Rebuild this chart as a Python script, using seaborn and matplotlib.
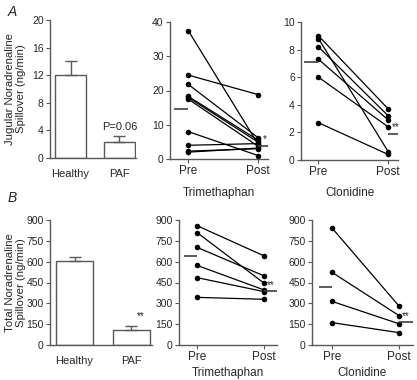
import numpy as np
import pandas as pd
import matplotlib
matplotlib.use("Agg")
import matplotlib.pyplot as plt
import seaborn as sns

sns.set_theme(style="ticks")
plt.rcParams["font.family"] = ["Liberation Sans", "DejaVu Sans"]
plt.rcParams["font.size"] = 8

# --- data ---
groups = ["Healthy", "PAF"]
jugular_mean = [12.0, 2.3]
jugular_err = [2.0, 0.9]
total_mean = [605, 110]
total_err = [30, 30]

phases = ["Pre", "Post"]
trim_jug_pre = [37.5, 24.5, 21.8, 18.3, 18.0, 17.5, 8.0, 4.0, 2.3, 2.0]
trim_jug_post = [4.3, 18.8, 6.2, 5.5, 4.9, 3.7, 1.0, 4.5, 3.0, 3.2]
trim_jug_avg = [14.6, 3.9]

clon_jug_pre = [9.0, 8.8, 8.2, 7.3, 6.0, 2.7]
clon_jug_post = [3.7, 0.6, 3.2, 2.9, 2.4, 0.4]
clon_jug_avg = [7.1, 1.9]

trim_tot_pre = [859, 809, 703, 573, 485, 343]
trim_tot_post = [641, 444, 497, 396, 384, 329]
trim_tot_avg = [640, 390]

clon_tot_pre = [842, 523, 314, 161]
clon_tot_post = [281, 212, 153, 89]
clon_tot_avg = [415, 168]

W, H = 417, 380
fig = plt.figure(figsize=(W / 100, H / 100), dpi=100)


def add_ax(left, right, top, bottom):
    return fig.add_axes([left / W, 1 - bottom / H, (right - left) / W, (bottom - top) / H])


def style(ax):
    sns.despine(ax=ax)
    for s in ("left", "bottom"):
        ax.spines[s].set_color("0.35")
        ax.spines[s].set_linewidth(1.0)
    ax.tick_params(length=3, width=0.8, color="0.35", pad=1.5, labelsize=7.5)


def bar_panel(ax, means, errs, ylim, yticks, ylabel, width, xlim, left, right):
    sns.barplot(x=groups, y=means, ax=ax, color="white", edgecolor="0.35",
                linewidth=1.0, width=width, errorbar=None, saturation=1)
    ax.errorbar(range(len(groups)), means, yerr=[np.zeros(len(errs)), errs],
                fmt="none", ecolor="0.35", elinewidth=1.0, capsize=4, capthick=1.0)
    ax.set_ylim(*ylim)
    ax.set_yticks(yticks)
    ax.set_xlim(*xlim)
    ax.set_ylabel(ylabel, fontsize=8.2, linespacing=1.1)
    # right edge of the y label block sits about 26 px from the figure edge
    ax.yaxis.set_label_coords((26 - left) / (right - left), 0.5)
    style(ax)
    ax.tick_params(axis="x", length=0, pad=8, labelsize=8)


def paired_panel(ax, pre, post, avg, ylim, yticks, xlabel, star, star_y, xlim, pad):
    n = len(pre)
    df = pd.DataFrame({
        "subject": list(range(n)) * 2,
        "pos": [0] * n + [1] * n,
        "value": pre + post,
    })
    sns.lineplot(data=df, x="pos", y="value", units="subject", estimator=None,
                 color="black", lw=0.9, marker="o", markersize=4,
                 markeredgewidth=0, ax=ax, legend=False)
    ax.hlines(avg[0], -0.2, 0, color="0.25", lw=1.2)
    ax.hlines(avg[1], 1, xlim[1], color="0.25", lw=1.2)
    ax.text(1.1, star_y, star, fontsize=7, ha="center", va="center")
    ax.set_xlim(*xlim)
    ax.set_ylim(*ylim)
    ax.set_yticks(yticks)
    ax.set_xticks([0, 1])
    ax.set_xticklabels(phases)
    ax.set_xlabel(xlabel, fontsize=8.5, labelpad=pad)
    ax.set_ylabel("")
    style(ax)
    ax.tick_params(axis="x", labelsize=8.5)


# --- row A ---
axA = add_ax(50, 136, 20, 158)
bar_panel(axA, jugular_mean, jugular_err, (0, 20), [0, 4, 8, 12, 16, 20],
          "Jugular Noradrenaline\nSpillover (ng/min)", 0.63, (-0.42, 1.34), 50, 136)
axA.text(1, jugular_mean[1] + jugular_err[1] + 1.3, "P=0.06", ha="center",
         va="center", fontsize=8)

ax = add_ax(170, 268, 22, 159)
paired_panel(ax, trim_jug_pre, trim_jug_post, trim_jug_avg, (0, 40),
             [0, 10, 20, 30, 40], "Trimethaphan", "*", 5.8, (-0.26, 1.14), 7)

ax = add_ax(301, 398, 22, 160)
paired_panel(ax, clon_jug_pre, clon_jug_post, clon_jug_avg, (0, 10),
             [0, 2, 4, 6, 8, 10], "Clonidine", "**", 2.35, (-0.25, 1.14), 6)

# --- row B ---
axB = add_ax(50, 152, 220, 345)
bar_panel(axB, total_mean, total_err, (0, 900), [0, 150, 300, 450, 600, 750, 900],
          "Total Noradrenaline\nSpillover (ng/min)", 0.65, (-0.43, 1.36), 50, 152)
axB.text(1.1, total_mean[1] + total_err[1] + 70, "**", ha="left",
         va="center", fontsize=7)

ax = add_ax(179, 277, 220, 345)
paired_panel(ax, trim_tot_pre, trim_tot_post, trim_tot_avg, (0, 900),
             [0, 150, 300, 450, 600, 750, 900], "Trimethaphan", "**", 430,
             (-0.27, 1.19), 3)

ax = add_ax(312, 413, 220, 345)
paired_panel(ax, clon_tot_pre, clon_tot_post, clon_tot_avg, (0, 900),
             [0, 150, 300, 450, 600, 750, 900], "Clonidine", "**", 205,
             (-0.3, 1.21), 3)

fig.text(8 / W, 1 - 12 / H, "A", fontsize=10, style="italic", va="center")
fig.text(8 / W, 1 - 198 / H, "B", fontsize=10, style="italic", va="center")

fig.savefig("out.png", dpi=100)
